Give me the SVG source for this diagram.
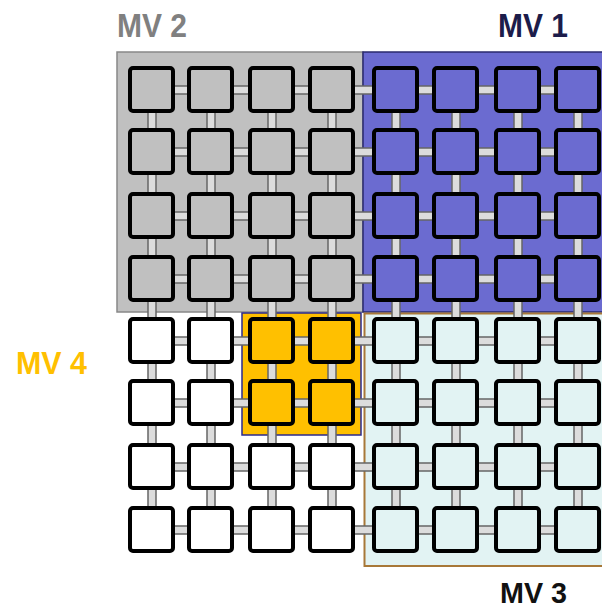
<svg xmlns="http://www.w3.org/2000/svg" width="602" height="608" viewBox="0 0 602 608">
<style>
.lbl{font-family:"Liberation Sans Narrow","Liberation Sans",Arial,sans-serif;font-weight:bold}
.n rect{stroke:#000;stroke-width:4}
.g{fill:#c0c0c0}.b{fill:#6b6bd0}.y{fill:#ffc000}.c{fill:#e2f3f3}.w{fill:#fff}
#connectors rect{fill:#dcdcdc;stroke:#666;stroke-width:1.5}
</style>
<rect width="602" height="608" fill="#fff"/>
<g id="regions">
<rect id="mv2-region" x="117" y="52" width="246" height="260" fill="#c0c0c0" stroke="#888" stroke-width="1.5"/>
<rect id="mv1-region" x="363" y="52" width="245" height="260" fill="#6b6bd0" stroke="#2a2a6e" stroke-width="1.5"/>
<rect id="mv3-region" x="364.5" y="313.5" width="245" height="252.5" fill="#e2f3f3" stroke="#a87838" stroke-width="2"/>
<rect id="mv4-region" x="242" y="313" width="119" height="122" fill="#ffc000" stroke="#2a2a8e" stroke-width="1.5"/>
</g>
<g id="labels">
<text class="lbl" x="117" y="37" font-size="34" textLength="70" lengthAdjust="spacingAndGlyphs" fill="#808080">MV 2</text>
<text class="lbl" x="498" y="37" font-size="34" textLength="70" lengthAdjust="spacingAndGlyphs" fill="#1c1c4a">MV 1</text>
<text class="lbl" x="16" y="374" font-size="32" textLength="71" lengthAdjust="spacingAndGlyphs" fill="#ffc000">MV 4</text>
<text class="lbl" x="500" y="603" font-size="30" textLength="67" lengthAdjust="spacingAndGlyphs" fill="#111">MV 3</text>
</g>
<g id="connectors">
<g id="h-row1"><rect x="173" y="86" width="16" height="8"/><rect x="232" y="86" width="18" height="8"/><rect x="293" y="86" width="17" height="8"/><rect x="353" y="86" width="21" height="8"/><rect x="417" y="86" width="17" height="8"/><rect x="477" y="86" width="19" height="8"/><rect x="539" y="86" width="17" height="8"/></g>
<g id="h-row2"><rect x="173" y="148" width="16" height="8"/><rect x="232" y="148" width="18" height="8"/><rect x="293" y="148" width="17" height="8"/><rect x="353" y="148" width="21" height="8"/><rect x="417" y="148" width="17" height="8"/><rect x="477" y="148" width="19" height="8"/><rect x="539" y="148" width="17" height="8"/></g>
<g id="h-row3"><rect x="173" y="212" width="16" height="8"/><rect x="232" y="212" width="18" height="8"/><rect x="293" y="212" width="17" height="8"/><rect x="353" y="212" width="21" height="8"/><rect x="417" y="212" width="17" height="8"/><rect x="477" y="212" width="19" height="8"/><rect x="539" y="212" width="17" height="8"/></g>
<g id="h-row4"><rect x="173" y="275" width="16" height="8"/><rect x="232" y="275" width="18" height="8"/><rect x="293" y="275" width="17" height="8"/><rect x="353" y="275" width="21" height="8"/><rect x="417" y="275" width="17" height="8"/><rect x="477" y="275" width="19" height="8"/><rect x="539" y="275" width="17" height="8"/></g>
<g id="h-row5"><rect x="173" y="337" width="16" height="8"/><rect x="232" y="337" width="18" height="8"/><rect x="293" y="337" width="17" height="8"/><rect x="353" y="337" width="21" height="8"/><rect x="417" y="337" width="17" height="8"/><rect x="477" y="337" width="19" height="8"/><rect x="539" y="337" width="17" height="8"/></g>
<g id="h-row6"><rect x="173" y="399" width="16" height="8"/><rect x="232" y="399" width="18" height="8"/><rect x="293" y="399" width="17" height="8"/><rect x="353" y="399" width="21" height="8"/><rect x="417" y="399" width="17" height="8"/><rect x="477" y="399" width="19" height="8"/><rect x="539" y="399" width="17" height="8"/></g>
<g id="h-row7"><rect x="173" y="463" width="16" height="8"/><rect x="232" y="463" width="18" height="8"/><rect x="293" y="463" width="17" height="8"/><rect x="353" y="463" width="21" height="8"/><rect x="417" y="463" width="17" height="8"/><rect x="477" y="463" width="19" height="8"/><rect x="539" y="463" width="17" height="8"/></g>
<g id="h-row8"><rect x="173" y="526" width="16" height="8"/><rect x="232" y="526" width="18" height="8"/><rect x="293" y="526" width="17" height="8"/><rect x="353" y="526" width="21" height="8"/><rect x="417" y="526" width="17" height="8"/><rect x="477" y="526" width="19" height="8"/><rect x="539" y="526" width="17" height="8"/></g>
<g id="v-col1"><rect x="148" y="111" width="8" height="19"/><rect x="148" y="173" width="8" height="21"/><rect x="148" y="237" width="8" height="20"/><rect x="148" y="300" width="8" height="19"/><rect x="148" y="362" width="8" height="19"/><rect x="148" y="424" width="8" height="21"/><rect x="148" y="488" width="8" height="20"/></g>
<g id="v-col2"><rect x="207" y="111" width="8" height="19"/><rect x="207" y="173" width="8" height="21"/><rect x="207" y="237" width="8" height="20"/><rect x="207" y="300" width="8" height="19"/><rect x="207" y="362" width="8" height="19"/><rect x="207" y="424" width="8" height="21"/><rect x="207" y="488" width="8" height="20"/></g>
<g id="v-col3"><rect x="268" y="111" width="8" height="19"/><rect x="268" y="173" width="8" height="21"/><rect x="268" y="237" width="8" height="20"/><rect x="268" y="300" width="8" height="19"/><rect x="268" y="362" width="8" height="19"/><rect x="268" y="424" width="8" height="21"/><rect x="268" y="488" width="8" height="20"/></g>
<g id="v-col4"><rect x="328" y="111" width="8" height="19"/><rect x="328" y="173" width="8" height="21"/><rect x="328" y="237" width="8" height="20"/><rect x="328" y="300" width="8" height="19"/><rect x="328" y="362" width="8" height="19"/><rect x="328" y="424" width="8" height="21"/><rect x="328" y="488" width="8" height="20"/></g>
<g id="v-col5"><rect x="392" y="111" width="8" height="19"/><rect x="392" y="173" width="8" height="21"/><rect x="392" y="237" width="8" height="20"/><rect x="392" y="300" width="8" height="19"/><rect x="392" y="362" width="8" height="19"/><rect x="392" y="424" width="8" height="21"/><rect x="392" y="488" width="8" height="20"/></g>
<g id="v-col6"><rect x="452" y="111" width="8" height="19"/><rect x="452" y="173" width="8" height="21"/><rect x="452" y="237" width="8" height="20"/><rect x="452" y="300" width="8" height="19"/><rect x="452" y="362" width="8" height="19"/><rect x="452" y="424" width="8" height="21"/><rect x="452" y="488" width="8" height="20"/></g>
<g id="v-col7"><rect x="514" y="111" width="8" height="19"/><rect x="514" y="173" width="8" height="21"/><rect x="514" y="237" width="8" height="20"/><rect x="514" y="300" width="8" height="19"/><rect x="514" y="362" width="8" height="19"/><rect x="514" y="424" width="8" height="21"/><rect x="514" y="488" width="8" height="20"/></g>
<g id="v-col8"><rect x="574" y="111" width="8" height="19"/><rect x="574" y="173" width="8" height="21"/><rect x="574" y="237" width="8" height="20"/><rect x="574" y="300" width="8" height="19"/><rect x="574" y="362" width="8" height="19"/><rect x="574" y="424" width="8" height="21"/><rect x="574" y="488" width="8" height="20"/></g>
</g>
<g id="nodes">
<g id="n-1-1" class="n"><rect class="g" x="130" y="68" width="43" height="43" rx="3"/></g>
<g id="n-1-2" class="n"><rect class="g" x="189" y="68" width="43" height="43" rx="3"/></g>
<g id="n-1-3" class="n"><rect class="g" x="250" y="68" width="43" height="43" rx="3"/></g>
<g id="n-1-4" class="n"><rect class="g" x="310" y="68" width="43" height="43" rx="3"/></g>
<g id="n-1-5" class="n"><rect class="b" x="374" y="68" width="43" height="43" rx="3"/></g>
<g id="n-1-6" class="n"><rect class="b" x="434" y="68" width="43" height="43" rx="3"/></g>
<g id="n-1-7" class="n"><rect class="b" x="496" y="68" width="43" height="43" rx="3"/></g>
<g id="n-1-8" class="n"><rect class="b" x="556" y="68" width="43" height="43" rx="3"/></g>
<g id="n-2-1" class="n"><rect class="g" x="130" y="130" width="43" height="43" rx="3"/></g>
<g id="n-2-2" class="n"><rect class="g" x="189" y="130" width="43" height="43" rx="3"/></g>
<g id="n-2-3" class="n"><rect class="g" x="250" y="130" width="43" height="43" rx="3"/></g>
<g id="n-2-4" class="n"><rect class="g" x="310" y="130" width="43" height="43" rx="3"/></g>
<g id="n-2-5" class="n"><rect class="b" x="374" y="130" width="43" height="43" rx="3"/></g>
<g id="n-2-6" class="n"><rect class="b" x="434" y="130" width="43" height="43" rx="3"/></g>
<g id="n-2-7" class="n"><rect class="b" x="496" y="130" width="43" height="43" rx="3"/></g>
<g id="n-2-8" class="n"><rect class="b" x="556" y="130" width="43" height="43" rx="3"/></g>
<g id="n-3-1" class="n"><rect class="g" x="130" y="194" width="43" height="43" rx="3"/></g>
<g id="n-3-2" class="n"><rect class="g" x="189" y="194" width="43" height="43" rx="3"/></g>
<g id="n-3-3" class="n"><rect class="g" x="250" y="194" width="43" height="43" rx="3"/></g>
<g id="n-3-4" class="n"><rect class="g" x="310" y="194" width="43" height="43" rx="3"/></g>
<g id="n-3-5" class="n"><rect class="b" x="374" y="194" width="43" height="43" rx="3"/></g>
<g id="n-3-6" class="n"><rect class="b" x="434" y="194" width="43" height="43" rx="3"/></g>
<g id="n-3-7" class="n"><rect class="b" x="496" y="194" width="43" height="43" rx="3"/></g>
<g id="n-3-8" class="n"><rect class="b" x="556" y="194" width="43" height="43" rx="3"/></g>
<g id="n-4-1" class="n"><rect class="g" x="130" y="257" width="43" height="43" rx="3"/></g>
<g id="n-4-2" class="n"><rect class="g" x="189" y="257" width="43" height="43" rx="3"/></g>
<g id="n-4-3" class="n"><rect class="g" x="250" y="257" width="43" height="43" rx="3"/></g>
<g id="n-4-4" class="n"><rect class="g" x="310" y="257" width="43" height="43" rx="3"/></g>
<g id="n-4-5" class="n"><rect class="b" x="374" y="257" width="43" height="43" rx="3"/></g>
<g id="n-4-6" class="n"><rect class="b" x="434" y="257" width="43" height="43" rx="3"/></g>
<g id="n-4-7" class="n"><rect class="b" x="496" y="257" width="43" height="43" rx="3"/></g>
<g id="n-4-8" class="n"><rect class="b" x="556" y="257" width="43" height="43" rx="3"/></g>
<g id="n-5-1" class="n"><rect class="w" x="130" y="319" width="43" height="43" rx="3"/></g>
<g id="n-5-2" class="n"><rect class="w" x="189" y="319" width="43" height="43" rx="3"/></g>
<g id="n-5-3" class="n"><rect class="y" x="250" y="319" width="43" height="43" rx="3"/></g>
<g id="n-5-4" class="n"><rect class="y" x="310" y="319" width="43" height="43" rx="3"/></g>
<g id="n-5-5" class="n"><rect class="c" x="374" y="319" width="43" height="43" rx="3"/></g>
<g id="n-5-6" class="n"><rect class="c" x="434" y="319" width="43" height="43" rx="3"/></g>
<g id="n-5-7" class="n"><rect class="c" x="496" y="319" width="43" height="43" rx="3"/></g>
<g id="n-5-8" class="n"><rect class="c" x="556" y="319" width="43" height="43" rx="3"/></g>
<g id="n-6-1" class="n"><rect class="w" x="130" y="381" width="43" height="43" rx="3"/></g>
<g id="n-6-2" class="n"><rect class="w" x="189" y="381" width="43" height="43" rx="3"/></g>
<g id="n-6-3" class="n"><rect class="y" x="250" y="381" width="43" height="43" rx="3"/></g>
<g id="n-6-4" class="n"><rect class="y" x="310" y="381" width="43" height="43" rx="3"/></g>
<g id="n-6-5" class="n"><rect class="c" x="374" y="381" width="43" height="43" rx="3"/></g>
<g id="n-6-6" class="n"><rect class="c" x="434" y="381" width="43" height="43" rx="3"/></g>
<g id="n-6-7" class="n"><rect class="c" x="496" y="381" width="43" height="43" rx="3"/></g>
<g id="n-6-8" class="n"><rect class="c" x="556" y="381" width="43" height="43" rx="3"/></g>
<g id="n-7-1" class="n"><rect class="w" x="130" y="445" width="43" height="43" rx="3"/></g>
<g id="n-7-2" class="n"><rect class="w" x="189" y="445" width="43" height="43" rx="3"/></g>
<g id="n-7-3" class="n"><rect class="w" x="250" y="445" width="43" height="43" rx="3"/></g>
<g id="n-7-4" class="n"><rect class="w" x="310" y="445" width="43" height="43" rx="3"/></g>
<g id="n-7-5" class="n"><rect class="c" x="374" y="445" width="43" height="43" rx="3"/></g>
<g id="n-7-6" class="n"><rect class="c" x="434" y="445" width="43" height="43" rx="3"/></g>
<g id="n-7-7" class="n"><rect class="c" x="496" y="445" width="43" height="43" rx="3"/></g>
<g id="n-7-8" class="n"><rect class="c" x="556" y="445" width="43" height="43" rx="3"/></g>
<g id="n-8-1" class="n"><rect class="w" x="130" y="508" width="43" height="43" rx="3"/></g>
<g id="n-8-2" class="n"><rect class="w" x="189" y="508" width="43" height="43" rx="3"/></g>
<g id="n-8-3" class="n"><rect class="w" x="250" y="508" width="43" height="43" rx="3"/></g>
<g id="n-8-4" class="n"><rect class="w" x="310" y="508" width="43" height="43" rx="3"/></g>
<g id="n-8-5" class="n"><rect class="c" x="374" y="508" width="43" height="43" rx="3"/></g>
<g id="n-8-6" class="n"><rect class="c" x="434" y="508" width="43" height="43" rx="3"/></g>
<g id="n-8-7" class="n"><rect class="c" x="496" y="508" width="43" height="43" rx="3"/></g>
<g id="n-8-8" class="n"><rect class="c" x="556" y="508" width="43" height="43" rx="3"/></g>
</g>
</svg>
